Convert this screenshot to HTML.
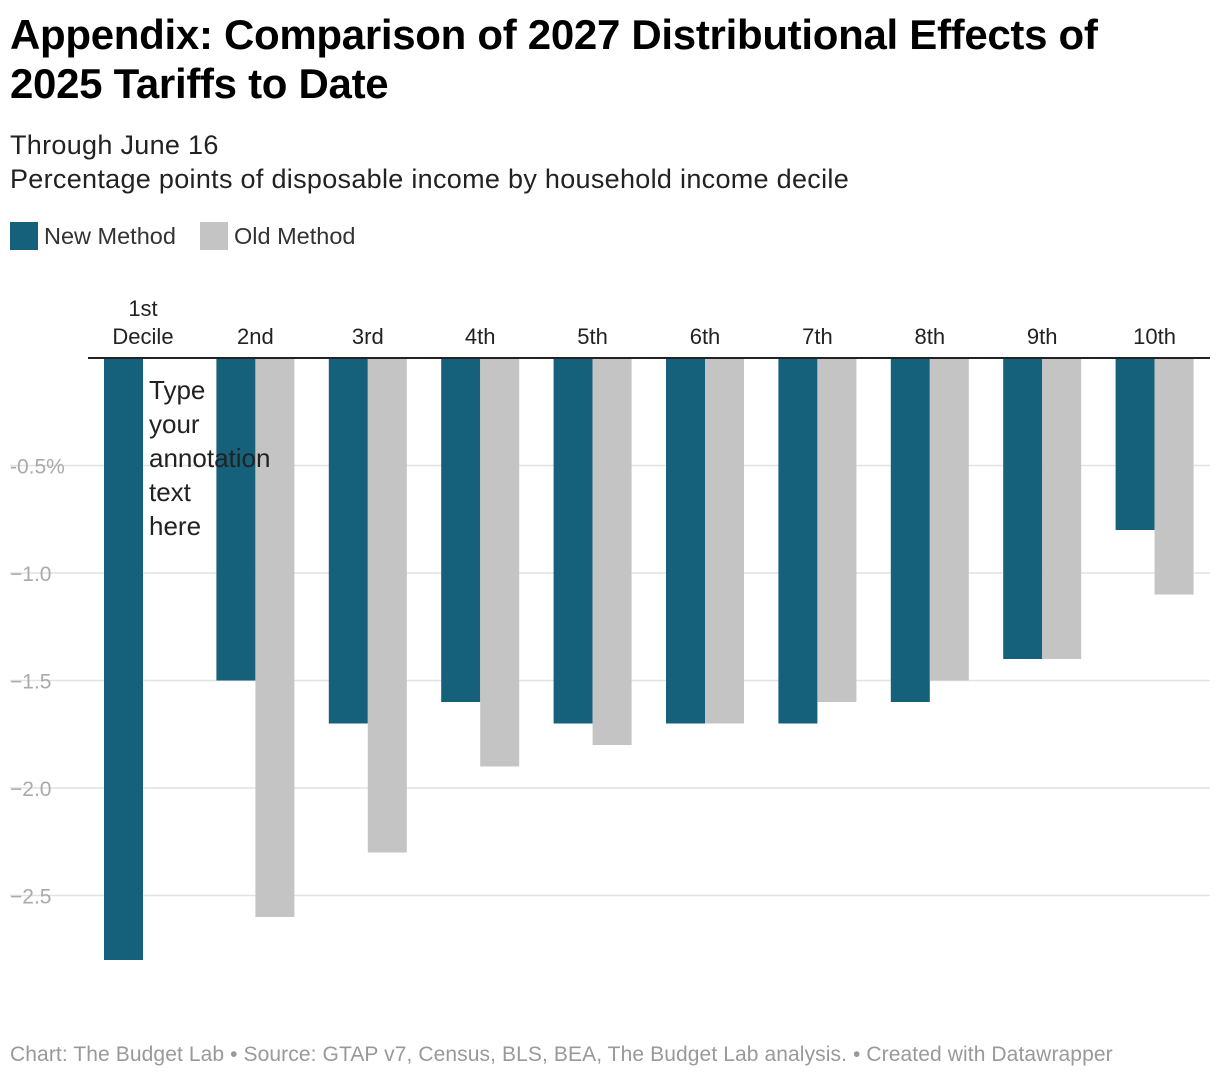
<!DOCTYPE html>
<html><head><meta charset="utf-8"><style>
body{margin:0;width:1220px;height:1080px;background:#fff;font-family:"Liberation Sans",sans-serif;position:relative;overflow:hidden}
.t{position:absolute;left:10px;top:10px;font-size:42px;font-weight:bold;line-height:49px;color:#000;letter-spacing:-0.3px}
.s{position:absolute;left:10px;font-size:27px;color:#222;letter-spacing:0.3px}
.lg{position:absolute;top:222px;font-size:23.5px;color:#333;display:flex;align-items:center}
.sw{width:28px;height:28px;margin-right:6px}
.f{position:absolute;left:10px;top:1043px;font-size:21px;color:#999;letter-spacing:0.1px}
</style></head><body>
<div class="t">Appendix: Comparison of 2027 Distributional Effects of<br>2025 Tariffs to Date</div>
<div class="s" style="top:130px">Through June 16</div>
<div class="s" style="top:164px">Percentage points of disposable income by household income decile</div>
<div class="lg" style="left:10px"><div class="sw" style="background:#15607a"></div>New Method</div>
<div class="lg" style="left:200px"><div class="sw" style="background:#c4c4c4"></div>Old Method</div>
<svg id="c" width="1220" height="1080" style="position:absolute;left:0;top:0"></svg>
<div class="f">Chart: The Budget Lab • Source: GTAP v7, Census, BLS, BEA, The Budget Lab analysis. • Created with Datawrapper</div>
<script>
const categories=["1st|Decile","2nd","3rd","4th","5th","6th","7th","8th","9th","10th"];
const newMethod=[-2.8,-1.5,-1.7,-1.6,-1.7,-1.7,-1.7,-1.6,-1.4,-0.8];
const oldMethod=[null,-2.6,-2.3,-1.9,-1.8,-1.7,-1.6,-1.5,-1.4,-1.1];
const ticks=[-0.5,-1.0,-1.5,-2.0,-2.5];
const tickLabels=["-0.5%","\u22121.0","\u22121.5","\u22122.0","\u22122.5"];
const NS="http://www.w3.org/2000/svg",svg=document.getElementById('c');
const y=v=>358-v*215;
const xc=i=>143+i*112.4;
const bw=39;
function mk(t,a){const e=document.createElementNS(NS,t);for(const k in a)e.setAttribute(k,a[k]);svg.appendChild(e);return e;}
ticks.forEach((t,i)=>{
 const l=mk('line',{x1:10,x2:1210,y1:y(t),y2:y(t),stroke:'#e2e2e2','stroke-width':1.5});
 
 
 const tx=mk('text',{x:10,y:y(t)+8,'font-size':21,fill:'#aaa'});tx.textContent=tickLabels[i];
 
 
});
categories.forEach((c,i)=>{
 if(newMethod[i]!=null){const r=mk('rect',{x:xc(i)-bw,y:358,width:bw,height:y(newMethod[i])-358,fill:'#15607a'});
 
 }
 if(oldMethod[i]!=null){const r=mk('rect',{x:xc(i),y:358,width:bw,height:y(oldMethod[i])-358,fill:'#c4c4c4'});
 
 }
 const parts=c.split('|');
 parts.forEach((p,j)=>{const t=mk('text',{x:xc(i),y:344-(parts.length-1-j)*28,'font-size':22,fill:'#222','text-anchor':'middle'});t.textContent=p;
 
 });
});
const base=mk('line',{x1:88,x2:1210,y1:358,y2:358,stroke:'#222','stroke-width':2});


["Type","your","annotation","text","here"].forEach((w,j)=>{const t=mk('text',{x:149,y:399+j*34,'font-size':26,fill:'#222'});t.textContent=w;
 
 });
</script>
</body></html>
